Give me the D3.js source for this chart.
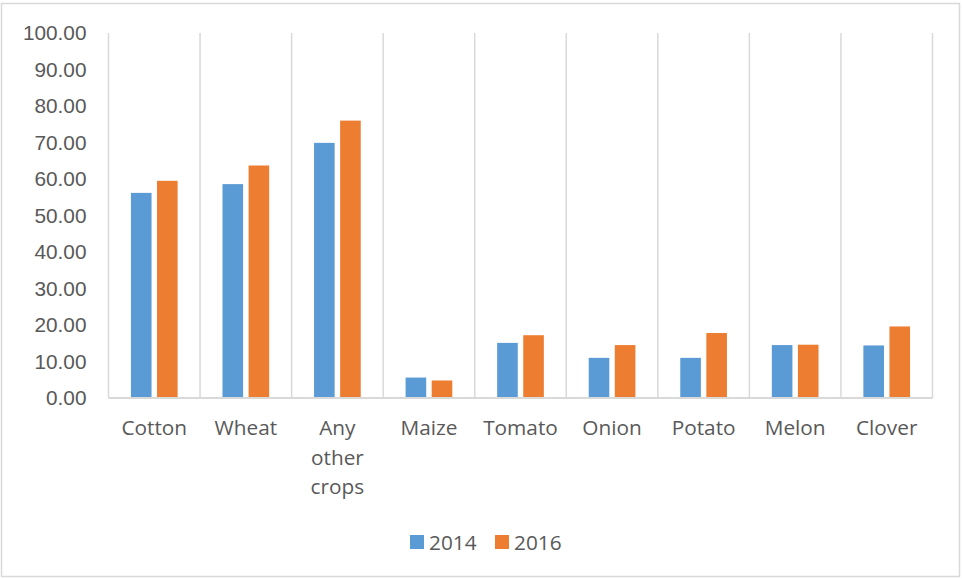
<!DOCTYPE html>
<html>
<head>
<meta charset="utf-8">
<script src="https://cdn.jsdelivr.net/npm/d3@7"></script>
<style>
  body { margin: 0; background: #fff; }
  svg { display: block; font-family: "Open Sans", "Noto Sans", sans-serif; }
</style>
</head>
<body>
<div id="chart"></div>
<script>
// --- Data ---
const categories = ["Cotton", "Wheat", "Any other crops", "Maize", "Tomato", "Onion", "Potato", "Melon", "Clover"];
const seriesNames = ["2014", "2016"];
const values2014 = [56.2, 58.6, 69.9, 5.6, 15.1, 11.0, 11.0, 14.5, 14.4];
const values2016 = [59.5, 63.7, 76.0, 4.8, 17.2, 14.5, 17.8, 14.6, 19.6];
const yTicks = [0, 10, 20, 30, 40, 50, 60, 70, 80, 90, 100];

const colors = { "2014": "#5B9BD5", "2016": "#ED7D31" };
const textColor = "#595959";
const gridColor = "#d9d9d9";
const fontSize = "20.8px";

const W = 962, H = 579;
const margin = { top: 33, right: 29.5, bottom: 181, left: 108.5 };
const width = W - margin.left - margin.right,
      height = H - margin.top - margin.bottom;

const rows = categories.map((c, i) => ({ cat: c, "2014": values2014[i], "2016": values2016[i] }));

const svg = d3.select("#chart")
  .append("svg")
  .attr("width", W)
  .attr("height", H);

// outer chart border
svg.append("rect")
  .attr("x", 1.5).attr("y", 3.5)
  .attr("width", 958).attr("height", 573)
  .attr("fill", "#fff")
  .attr("stroke", gridColor)
  .attr("stroke-width", 1.5);

const g = svg.append("g")
  .attr("transform", `translate(${margin.left},${margin.top})`);

const x0 = d3.scaleBand()
  .domain(categories)
  .range([0, width])
  .padding(0);

const x1 = d3.scaleBand()
  .domain(seriesNames)
  .range([0, x0.bandwidth()])
  .paddingInner(0.21)
  .paddingOuter(0.86);

const y = d3.scaleLinear()
  .domain([0, 100])
  .range([height, 0]);

// vertical gridlines at category boundaries
const bounds = categories.map(c => x0(c)).concat([width]);
g.append("g")
  .selectAll("line")
  .data(bounds)
  .enter()
  .append("line")
  .attr("x1", d => d).attr("x2", d => d)
  .attr("y1", 0).attr("y2", height)
  .attr("stroke", gridColor)
  .attr("stroke-width", 1.5);

// y axis labels
const yAxis = g.append("g")
  .call(d3.axisLeft(y).tickValues(yTicks).tickFormat(d3.format(".2f")).tickSize(0).tickPadding(22));
yAxis.select(".domain").remove();
yAxis.selectAll("text")
  .attr("fill", textColor)
  .style("font-size", fontSize);

// bars
const groups = g.selectAll(".grp")
  .data(rows)
  .enter()
  .append("g")
  .attr("class", "grp")
  .attr("transform", d => `translate(${x0(d.cat)},0)`);

groups.selectAll("rect")
  .data(d => seriesNames.map(s => ({ s, v: d[s] })))
  .enter()
  .append("rect")
  .attr("x", d => x1(d.s))
  .attr("y", d => y(d.v))
  .attr("width", x1.bandwidth())
  .attr("height", d => height - y(d.v))
  .attr("fill", d => colors[d.s]);

// baseline
g.append("line")
  .attr("x1", 0).attr("x2", width)
  .attr("y1", height).attr("y2", height)
  .attr("stroke", gridColor)
  .attr("stroke-width", 2);

// category labels (wrapped)
const wrapped = { "Any other crops": ["Any", "other", "crops"] };
const catLabels = g.append("g")
  .selectAll("text")
  .data(categories)
  .enter()
  .append("text")
  .attr("x", d => x0(d) + x0.bandwidth() / 2)
  .attr("y", height + 37)
  .attr("text-anchor", "middle")
  .attr("fill", textColor)
  .style("font-size", fontSize);
catLabels.each(function (d) {
  const lines = wrapped[d] || [d];
  const t = d3.select(this);
  lines.forEach((ln, i) => {
    t.append("tspan")
      .attr("x", x0(d) + x0.bandwidth() / 2)
      .attr("dy", i === 0 ? 0 : 29.5)
      .text(ln);
  });
});

// legend
const legendX = [410, 495];
const legend = svg.append("g");
seriesNames.forEach((s, i) => {
  legend.append("rect")
    .attr("x", legendX[i]).attr("y", 535)
    .attr("width", 14).attr("height", 14)
    .attr("fill", colors[s]);
  legend.append("text")
    .attr("x", legendX[i] + 19).attr("y", 549.5)
    .attr("fill", textColor)
    .style("font-size", fontSize)
    .text(s);
});
</script>
</body>
</html>
